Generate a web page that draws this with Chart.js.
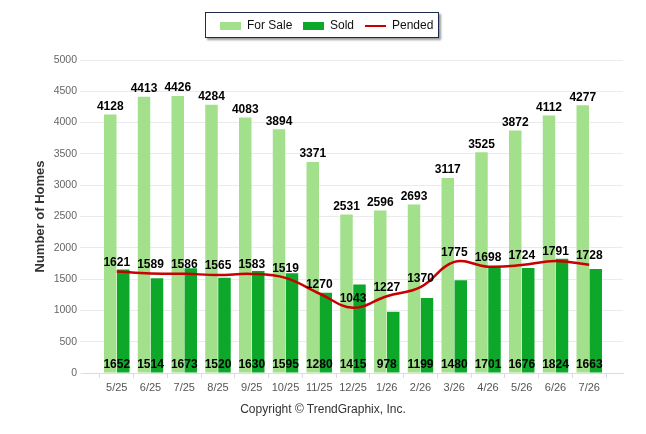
<!DOCTYPE html>
<html>
<head>
<meta charset="utf-8">
<script src="https://cdn.jsdelivr.net/npm/chart.js@4.4.1/dist/chart.umd.min.js"></script>
<style>
    body { margin: 0; background: #fff; font-family: "Liberation Sans", Arial, sans-serif; }
    #wrap { position: relative; width: 646px; height: 434px; }
    #legend {
        position: absolute; left: 205px; top: 12px; width: 234px; height: 26px;
        border: 1px solid #1c2b4d; box-shadow: 2px 2px 2px #9a9a9a; background: #fff;
        font-size: 12px; color: #111; box-sizing: border-box;
    }
    #legend span { position: absolute; top: 5px; }
    .sw { position: absolute; top: 9px; width: 21px; height: 8px; }
    #copy { position: absolute; left: 0; width: 646px; top: 402px; text-align: center; font-size: 12px; color: #333; }
</style>
</head>
<body>
<div id="wrap">
    <canvas id="chart" width="646" height="434"></canvas>
    <div id="legend">
        <div class="sw" style="left:14px;background:#a2e08b"></div><span style="left:41px">For Sale</span>
        <div class="sw" style="left:97px;background:#0da829"></div><span style="left:124px">Sold</span>
        <div class="sw" style="left:159px;top:12px;height:2px;background:#c80000"></div><span style="left:186px">Pended</span>
    </div>
    <div id="copy">Copyright &copy; TrendGraphix, Inc.</div>
</div>
<script>
// Chart data
const months = ['5/25', '6/25', '7/25', '8/25', '9/25', '10/25', '11/25', '12/25', '1/26', '2/26', '3/26', '4/26', '5/26', '6/26', '7/26'];
const forSale = [4128, 4413, 4426, 4284, 4083, 3894, 3371, 2531, 2596, 2693, 3117, 3525, 3872, 4112, 4277];
const sold = [1652, 1514, 1673, 1520, 1630, 1595, 1280, 1415, 978, 1199, 1480, 1701, 1676, 1824, 1663];
const pended = [1621, 1589, 1586, 1565, 1583, 1519, 1270, 1043, 1227, 1370, 1775, 1698, 1724, 1791, 1728];
const yTicks = [0, 500, 1000, 1500, 2000, 2500, 3000, 3500, 4000, 4500, 5000];

// blank slot at each end so the months sit one step in from the axis ends
const pad = arr => [null, ...arr, null];
const labels = ['', ...months, ''];

// value labels: for sale above bars, pended above line, sold at the bottom
const valueLabels = {
    id: 'valueLabels',
    afterDatasetsDraw(chart) {
        const ctx = chart.ctx;
        const x = chart.scales.x;
        const y = chart.scales.y;
        ctx.save();
        ctx.font = 'bold 12px "Liberation Sans", Arial, sans-serif';
        ctx.fillStyle = '#000';
        ctx.textAlign = 'center';
        ctx.textBaseline = 'middle';
        const saleBars = chart.getDatasetMeta(1).data;
        months.forEach((m, i) => {
            const idx = i + 1;
            ctx.fillText(forSale[i], saleBars[idx].x, y.getPixelForValue(forSale[i]) - 8);
            ctx.fillText(pended[i], x.getPixelForValue(idx), y.getPixelForValue(pended[i]) - 9);
            ctx.fillText(sold[i], x.getPixelForValue(idx), y.getPixelForValue(0) - 8);
        });
        ctx.restore();
    }
};

new Chart(document.getElementById('chart'), {
    data: {
        labels: labels,
        datasets: [{
            type: 'line',
            label: 'Pended',
            data: pad(pended),
            borderColor: '#c80000',
            borderWidth: 2.5,
            tension: 0.4,
            pointRadius: 0,
            order: 0
        }, {
            type: 'bar',
            label: 'For Sale',
            data: pad(forSale),
            backgroundColor: '#a2e08b',
            categoryPercentage: 0.77,
            barPercentage: 0.96,
            order: 1
        }, {
            type: 'bar',
            label: 'Sold',
            data: pad(sold),
            backgroundColor: '#0da829',
            categoryPercentage: 0.77,
            barPercentage: 0.96,
            order: 1
        }]
    },
    options: {
        responsive: false,
        animation: false,
        layout: { padding: { top: 60, right: 23, left: 29, bottom: 0 } },
        plugins: {
            legend: { display: false },
            tooltip: { enabled: false }
        },
        scales: {
            x: {
                offset: false,
                grid: { drawOnChartArea: false, tickLength: 5, color: '#dcdcdc' },
                border: { color: '#dcdcdc' },
                ticks: { color: '#555', font: { size: 11, family: '"Liberation Sans", Arial' }, padding: 3, maxRotation: 0, autoSkip: false },
                afterFit: s => { s.height = 61; }
            },
            y: {
                min: 0,
                max: 5000,
                afterBuildTicks: s => { s.ticks = yTicks.map(v => ({ value: v })); },
                grid: { color: '#ebebeb', tickLength: 3 },
                border: { display: false },
                ticks: { color: '#666', font: { size: 10.5, family: '"Liberation Sans", Arial' }, padding: 3, callback: v => String(v) },
                title: {
                    display: true,
                    text: 'Number of Homes',
                    color: '#333',
                    font: { size: 13, weight: 'bold', family: '"Liberation Sans", Arial' },
                    padding: { top: 4, bottom: 10 }
                },
                afterFit: s => { s.width = 54; }
            }
        }
    },
    plugins: [valueLabels]
});
</script>
</body>
</html>
